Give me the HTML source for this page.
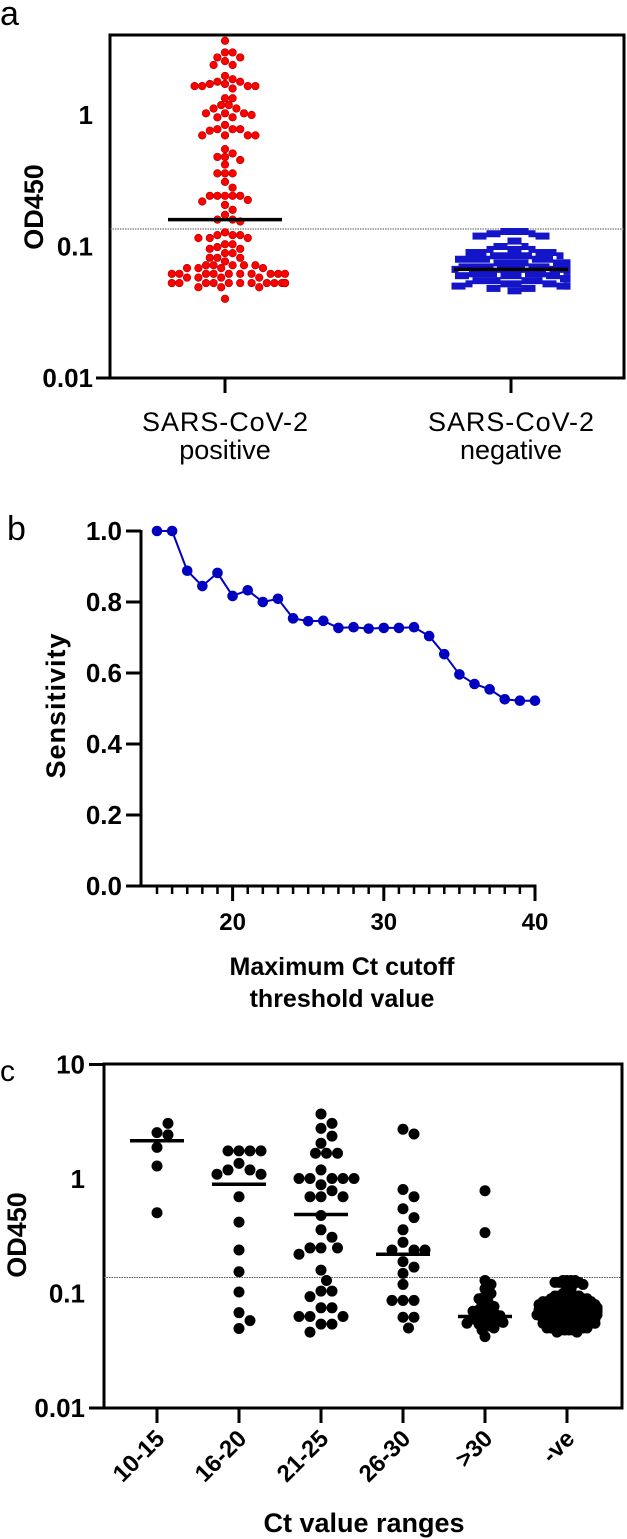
<!DOCTYPE html>
<html><head><meta charset="utf-8"><style>
html,body{margin:0;padding:0;background:#fff}
svg{display:block;font-family:"Liberation Sans",Arial,sans-serif}
</style></head><body>
<svg id="fig" width="627" height="1539" viewBox="0 0 627 1539" xmlns="http://www.w3.org/2000/svg">
<g id="pa"></g>
<g id="pb"></g>
<g id="pc"></g>
</svg>
<script>
// ---------- Panel A data ----------
const catsA = ["SARS-CoV-2|positive", "SARS-CoV-2|negative"];
const posVals = [3.67,2.99,2.99,2.74,2.74,2.57,2.40,2.40,1.98,1.87,1.79,1.79,1.72,1.72,1.66,1.66,1.66,1.66,1.59,1.34,1.34,1.19,1.19,1.12,1.12,1.03,1.03,1.03,1.0,0.96,0.96,0.84,0.78,0.78,0.78,0.76,0.70,0.70,0.70,0.70,0.55,0.51,0.48,0.48,0.455,0.42,0.36,0.36,0.36,0.31,0.28,0.243,0.243,0.243,0.243,0.243,0.226,0.22,0.207,0.19,0.174,0.16,0.16,0.155,0.128,0.122,0.122,0.122,0.116,0.116,0.116,0.104,0.104,0.099,0.096,0.096,0.089,0.089,0.082,0.082,0.082,0.077,0.072,0.072,0.072,0.072,0.072,0.0685,0.0685,0.0685,0.0685,0.062,0.062,0.062,0.062,0.062,0.062,0.062,0.062,0.062,0.062,0.058,0.058,0.058,0.058,0.0527,0.0527,0.0527,0.0527,0.0527,0.0527,0.0527,0.0527,0.0527,0.0527,0.0527,0.0527,0.0527,0.0527,0.049,0.049,0.049,0.040];
const negVals = [0.13,0.13,0.13,0.13,0.125,0.125,0.125,0.12,0.12,0.12,0.12,0.11,0.11,0.10,0.10,0.10,0.095,0.095,0.095,0.095,0.09,0.09,0.09,0.09,0.09,0.09,0.085,0.085,0.085,0.085,0.085,0.085,0.085,0.08,0.08,0.08,0.08,0.08,0.08,0.08,0.08,0.075,0.075,0.075,0.075,0.075,0.075,0.075,0.075,0.075,0.075,0.072,0.072,0.072,0.072,0.072,0.072,0.072,0.072,0.07,0.07,0.07,0.07,0.07,0.07,0.07,0.07,0.067,0.067,0.067,0.067,0.067,0.067,0.067,0.067,0.065,0.065,0.065,0.065,0.065,0.065,0.065,0.065,0.062,0.062,0.062,0.062,0.062,0.062,0.062,0.06,0.06,0.06,0.06,0.06,0.06,0.06,0.057,0.057,0.057,0.057,0.057,0.057,0.057,0.055,0.055,0.055,0.055,0.055,0.055,0.055,0.052,0.052,0.052,0.052,0.052,0.052,0.05,0.05,0.05,0.05,0.05,0.048,0.048,0.048,0.048,0.046,0.046];
const centerA = [0.16, 0.067];
const ticksA = [1, 0.1, 0.01];
const tickLabelsA = ["1", "0.1", "0.01"];
const thresholdA = 0.136;

// ---------- Panel B data ----------
const ctCutoff = [15,16,17,18,19,20,21,22,23,24,25,26,27,28,29,30,31,32,33,34,35,36,37,38,39,40];
const sensitivity = [1.0,1.0,0.888,0.845,0.882,0.817,0.833,0.800,0.809,0.754,0.746,0.747,0.727,0.729,0.725,0.727,0.727,0.729,0.704,0.653,0.596,0.569,0.554,0.526,0.522,0.522];
const ticksBy = [0,0.2,0.4,0.6,0.8,1.0];
const tickLabelsBy = ["0.0","0.2","0.4","0.6","0.8","1.0"];
const ticksBx = [20,30,40];

// ---------- Panel C data ----------
const catsC = ["10-15","16-20","21-25","26-30",">30","-ve"];
const c1015 = [2.54,3.06,2.43,1.89,1.30,0.507];
const c1620 = [1.76,1.76,1.76,1.76,1.37,1.2,1.2,1.1,1.1,0.70,0.42,0.24,0.155,0.103,0.068,0.058,0.0495];
const c2125 = [3.7,3.06,2.77,2.37,2.05,1.68,1.68,1.68,1.2,1.01,1.01,1.01,1.01,1.01,0.89,0.79,0.70,0.70,0.70,0.48,0.36,0.31,0.25,0.25,0.25,0.22,0.16,0.13,0.105,0.105,0.094,0.075,0.075,0.063,0.063,0.063,0.054,0.054,0.046];
const c2630 = [2.72,2.47,0.81,0.70,0.55,0.46,0.36,0.28,0.24,0.24,0.24,0.19,0.17,0.15,0.12,0.087,0.087,0.087,0.062,0.062,0.050];
const cGt30 = [0.79,0.34,0.13,0.12,0.11,0.1,0.095,0.09,0.085,0.08,0.077,0.075,0.072,0.07,0.068,0.066,0.064,0.062,0.06,0.06,0.058,0.057,0.056,0.055,0.054,0.052,0.05,0.048,0.042];
const cNeg = negVals;
const centerC = [2.16,0.9,0.49,0.22,0.063,0.065];
const ticksC = [10,1,0.1,0.01];
const tickLabelsC = ["10","1","0.1","0.01"];
const thresholdC = 0.138;

const NS = "http://www.w3.org/2000/svg";
function mk(parent, tag, attrs, text){
  const e = document.createElementNS(NS, tag);
  for (const k in attrs) e.setAttribute(k, attrs[k]);
  if (text !== undefined) e.textContent = text;
  parent.appendChild(e); return e;
}
function swarm(vals, yf, d, step, maxw){
  const placed = []; const out = [];
  vals.forEach(v=>{
    const y = yf(v); let off = 0;
    for (let k=0;k<400;k++){
      const m = k===0?0:(k%2? Math.ceil(k/2) : -k/2);
      const x = m*step;
      if (Math.abs(x) > maxw) { off = Math.max(-maxw, Math.min(maxw, x)); break; }
      let ok = true;
      for (const p of placed){ const dx=p[0]-x, dy=p[1]-y; if (dx*dx+dy*dy < d*d){ok=false;break;} }
      if (ok){ off = x; break; }
    }
    placed.push([off,y]); out.push([off,y]);
  });
  return out;
}

// ================= PANEL A =================
(function(){
  const g = document.getElementById('pa');
  const L=110,R=624,T=35,B=378;
  const ya = v => B - (Math.log10(v)+2)*131.5;
  const xa = i => [225,511][i];
  let t = mk(g,'text',{x:0,y:25,'font-size':34});
  t.textContent='a';
   
  const box = mk(g,'rect',{x:L,y:T,width:R-L,height:B-T,fill:'none',stroke:'#000','stroke-width':3});
   
  const ext = mk(g,'line',{x1:96,y1:B,x2:L,y2:B,stroke:'#000','stroke-width':3});
   
  ticksA.forEach((v,i)=>{
    const tl = mk(g,'text',{x:93,y:ya(v)+9,'text-anchor':'end','font-size':26,'font-weight':'bold'},tickLabelsA[i]);
     
  });
  const yt = mk(g,'text',{x:0,y:0,'text-anchor':'middle','dominant-baseline':'central','font-size':27,'font-weight':'bold',transform:'translate(34,207) rotate(-90)'},'OD450');
   
  const th = mk(g,'line',{x1:L,y1:ya(thresholdA),x2:R,y2:ya(thresholdA),stroke:'#555','stroke-width':1,'stroke-dasharray':'1.5,1'});
   
  catsA.forEach((c,i)=>{
    const tk = mk(g,'line',{x1:xa(i),y1:B,x2:xa(i),y2:393,stroke:'#000','stroke-width':3});
     
    const parts = c.split('|');
    const l1 = mk(g,'text',{x:xa(i),y:431,'text-anchor':'middle','font-size':27,textLength:166},parts[0]);
     
    const l2 = mk(g,'text',{x:xa(i),y:459,'text-anchor':'middle','font-size':27},parts[1]);
     
  });
  swarm(posVals, ya, 7.6, 3.8, 60).forEach(p=>{
    const c = mk(g,'circle',{cx:xa(0)+p[0],cy:p[1],r:3.8,fill:'#f00',stroke:'#a00','stroke-width':0.6});
     
  });
  swarm(negVals, ya, 7, 3.5, 56).forEach(p=>{
    const s = mk(g,'rect',{x:xa(1)+p[0]-3.5,y:p[1]-3.5,width:7,height:7,fill:'#1414c8'});
     
  });
  centerA.forEach((v,i)=>{
    const m = mk(g,'line',{x1:xa(i)-57,y1:ya(v),x2:xa(i)+57,y2:ya(v),stroke:'#000','stroke-width':3.5});
     
  });
})();

// ================= PANEL B =================
(function(){
  const g = document.getElementById('pb');
  const L=141,B=886;
  const xb = t => 157 + (t-15)*15.12;
  const yb = s => B - s*355;
  let t = mk(g,'text',{x:7,y:540,'font-size':34},'b');
   
  const ya = mk(g,'line',{x1:L,y1:yb(1)-1,x2:L,y2:B+1.5,stroke:'#000','stroke-width':3});
   
  const xax = mk(g,'line',{x1:126,y1:B,x2:xb(40)+1.5,y2:B,stroke:'#000','stroke-width':3});
   
  ticksBy.forEach((v,i)=>{
    const tk = mk(g,'line',{x1:126,y1:yb(v),x2:L,y2:yb(v),stroke:'#000','stroke-width':3});
     
    const tl = mk(g,'text',{x:122,y:yb(v)+9,'text-anchor':'end','font-size':26,'font-weight':'bold'},tickLabelsBy[i]);
     
  });
  for (let v=15; v<=40; v++){
    const major = ticksBx.indexOf(v)>=0;
    const tk = mk(g,'line',{x1:xb(v),y1:B,x2:xb(v),y2:major?901:894,stroke:'#000','stroke-width':major?3:2.5});
     
  }
  ticksBx.forEach(v=>{
    const tl = mk(g,'text',{x:xb(v),y:930,'text-anchor':'middle','font-size':24,'font-weight':'bold'},String(v));
     
  });
  const yt = mk(g,'text',{x:0,y:0,'text-anchor':'middle','dominant-baseline':'central','font-size':27,'font-weight':'bold',textLength:145,transform:'translate(56,706) rotate(-90)'},'Sensitivity');
   
  const x1 = mk(g,'text',{x:342,y:975,'text-anchor':'middle','font-size':25,'font-weight':'bold'},'Maximum Ct cutoff');
   
  const x2 = mk(g,'text',{x:342,y:1007,'text-anchor':'middle','font-size':25,'font-weight':'bold'},'threshold value');
   
  const pts = ctCutoff.map((c,i)=>xb(c)+','+yb(sensitivity[i])).join(' ');
  const pl = mk(g,'polyline',{points:pts,fill:'none',stroke:'#0000c0','stroke-width':2});
   
  ctCutoff.forEach((c,i)=>{
    const d = mk(g,'circle',{cx:xb(c),cy:yb(sensitivity[i]),r:5.3,fill:'#0000c0'});
     
  });
})();

// ================= PANEL C =================
(function(){
  const g = document.getElementById('pc');
  const L=104,R=622,T=1064,B=1408;
  const yc = v => B - (Math.log10(v)+2)*114.5;
  const xc = i => 157 + i*82;
  const groups = [c1015,c1620,c2125,c2630,cGt30,cNeg];
  let t = mk(g,'text',{x:0,y:1081,'font-size':30},'c');
   
  const box = mk(g,'rect',{x:L,y:T,width:R-L,height:B-T,fill:'none',stroke:'#000','stroke-width':3});
   
  [10,0.01].forEach(v=>{
    const e = mk(g,'line',{x1:89,y1:yc(v),x2:L,y2:yc(v),stroke:'#000','stroke-width':3});
     
  });
  ticksC.forEach((v,i)=>{
    const tl = mk(g,'text',{x:85,y:yc(v)+9,'text-anchor':'end','font-size':26,'font-weight':'bold'},tickLabelsC[i]);
     
  });
  const yt = mk(g,'text',{x:0,y:0,'text-anchor':'middle','dominant-baseline':'central','font-size':27,'font-weight':'bold',transform:'translate(17,1235) rotate(-90)'},'OD450');
   
  const th = mk(g,'line',{x1:L,y1:yc(thresholdC),x2:R,y2:yc(thresholdC),stroke:'#555','stroke-width':1,'stroke-dasharray':'1.5,1'});
   
  catsC.forEach((c,i)=>{
    const tk = mk(g,'line',{x1:xc(i),y1:B,x2:xc(i),y2:1423,stroke:'#000','stroke-width':3});
     
    const tl = mk(g,'text',{x:0,y:0,'text-anchor':'end','font-size':24,'font-weight':'bold',transform:'translate('+(xc(i)+9)+',1440) rotate(-45)'},c);
     
  });
  const xt = mk(g,'text',{x:364,y:1532,'text-anchor':'middle','font-size':27,'font-weight':'bold'},'Ct value ranges');
   
  const dens = [[11,5.5,40],[11,5.5,40],[11,5.5,40],[11,5.5,40],[6,3,28],[4,2,30]];
  groups.forEach((vals,i)=>{
    swarm(vals, yc, dens[i][0], dens[i][1], dens[i][2]).forEach(p=>{
      const c = mk(g,'circle',{cx:xc(i)+p[0],cy:p[1],r:5.5,fill:'#000'});
       
    });
  });
  centerC.forEach((v,i)=>{
    const m = mk(g,'line',{x1:xc(i)-27,y1:yc(v),x2:xc(i)+27,y2:yc(v),stroke:'#000','stroke-width':3.5});
     
  });
})();
</script>
</body></html>
